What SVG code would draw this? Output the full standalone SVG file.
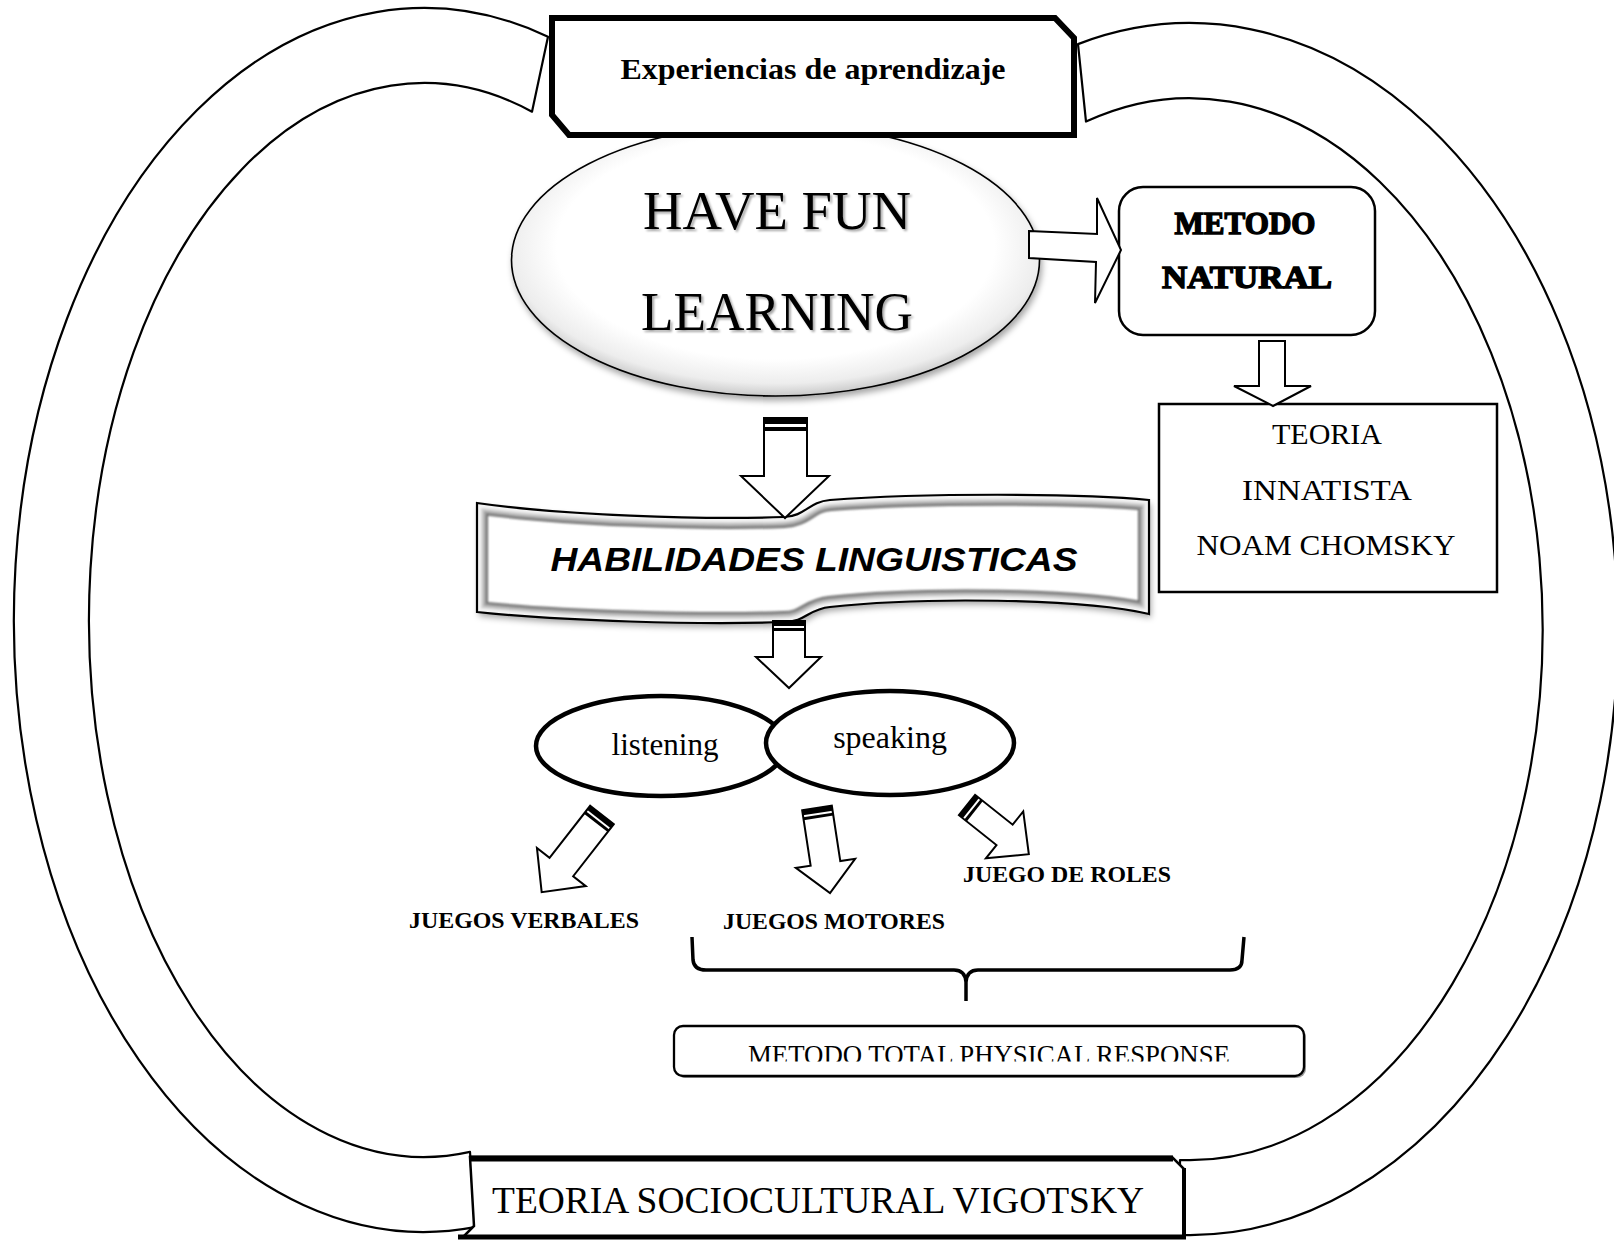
<svg xmlns="http://www.w3.org/2000/svg" width="1614" height="1240" viewBox="0 0 1614 1240">
<defs>
<style>
.band{fill:#fff;stroke:#000;stroke-width:2.2;stroke-linejoin:round}
.t{font-family:"Liberation Serif","Times New Roman",serif;fill:#000}
.arr{fill:#fff;stroke:#000;stroke-width:2;stroke-linejoin:miter}
.bar{fill:#000}
.lbl{font-family:"Liberation Serif","Times New Roman",serif;font-weight:bold;font-size:23px;fill:#000}
</style>
<radialGradient id="hf" cx="0.5" cy="0.45" r="0.56">
<stop offset="0" stop-color="#fff"/><stop offset="0.74" stop-color="#fff"/><stop offset="0.9" stop-color="#ededed"/><stop offset="1" stop-color="#c2c2c2"/>
</radialGradient>
<filter id="sh" x="-10%" y="-10%" width="130%" height="130%"><feDropShadow dx="2" dy="4" stdDeviation="3" flood-color="#000" flood-opacity="0.35"/></filter>
<filter id="tsh" x="-5%" y="-10%" width="115%" height="130%"><feDropShadow dx="2" dy="2" stdDeviation="1.2" flood-color="#000" flood-opacity="0.35"/></filter>
<filter id="soft"><feGaussianBlur stdDeviation="0.9"/></filter>
<clipPath id="bc"><path d="M477,503 C560,515 700,520 784,517 C806,516 808,502 830,500 C920,493 1080,493 1149,500 L1149,614 C1080,598 920,597 830,607 C808,609 806,622 784,622 C700,625 560,621 477,612 Z"/></clipPath>
<clipPath id="mc"><rect x="674" y="1026" width="630" height="35.5"/></clipPath>
</defs>
<rect width="1614" height="1240" fill="#fff"/>

<g id="ring">
<path class="band" d="M548,36.7 A410,612 0 1,0 475,1227.2 L470,1151.9 A335,537 0 1,1 532,111.7 Z"/>
<path class="band" d="M1078,44.1 A428,606 0 1,1 1180,1234.9 L1180,1160 A353,531 0 1,0 1086,121.6 Z"/>
</g>

<g id="have-fun-learning">
<ellipse cx="775.5" cy="260" rx="264" ry="136" fill="url(#hf)" stroke="#000" stroke-width="1.6" filter="url(#sh)"/>
<g filter="url(#tsh)">
<text class="t" x="777" y="229" font-size="55" text-anchor="middle" textLength="268" lengthAdjust="spacingAndGlyphs">HAVE FUN</text>
<text class="t" x="777" y="330" font-size="55" text-anchor="middle" textLength="272" lengthAdjust="spacingAndGlyphs">LEARNING</text>
</g>
</g>

<g id="experiencias">
<polygon points="552,18 1055,18 1074,38 1074,135 569,135 552,115" fill="#fff" stroke="#000" stroke-width="6" stroke-linejoin="miter"/>
<text class="t" x="813" y="79" font-size="30" font-weight="bold" text-anchor="middle" textLength="385" lengthAdjust="spacingAndGlyphs">Experiencias de aprendizaje</text>
</g>

<g id="metodo-natural">
<rect x="1119" y="187" width="256" height="148" rx="24" fill="#fff" stroke="#000" stroke-width="2.5"/>
<text class="t" x="1245" y="234" font-size="31" font-weight="bold" stroke="#000" stroke-width="1.4" text-anchor="middle" textLength="141" lengthAdjust="spacingAndGlyphs">METODO</text>
<text class="t" x="1247" y="288" font-size="31" font-weight="bold" stroke="#000" stroke-width="1.4" text-anchor="middle" textLength="170" lengthAdjust="spacingAndGlyphs">NATURAL</text>
</g>

<g id="teoria-innatista">
<rect x="1159" y="404" width="338" height="188" fill="#fff" stroke="#000" stroke-width="2.5"/>
<text class="t" x="1327" y="444" font-size="30" text-anchor="middle">TEORIA</text>
<text class="t" x="1327" y="500" font-size="30" text-anchor="middle" textLength="170" lengthAdjust="spacingAndGlyphs">INNATISTA</text>
<text class="t" x="1326" y="555" font-size="30" text-anchor="middle" textLength="259" lengthAdjust="spacingAndGlyphs">NOAM CHOMSKY</text>
</g>

<g id="habilidades">
<path d="M477,503 C560,515 700,520 784,517 C806,516 808,502 830,500 C920,493 1080,493 1149,500 L1149,614 C1080,598 920,597 830,607 C808,609 806,622 784,622 C700,625 560,621 477,612 Z" fill="#fff" filter="url(#sh)"/>
<g clip-path="url(#bc)">
<g fill="none" filter="url(#soft)">
<path d="M477,503 C560,515 700,520 784,517 C806,516 808,502 830,500 C920,493 1080,493 1149,500 L1149,614 C1080,598 920,597 830,607 C808,609 806,622 784,622 C700,625 560,621 477,612 Z" stroke="#6a6a6a" stroke-width="22"/>
<path d="M477,503 C560,515 700,520 784,517 C806,516 808,502 830,500 C920,493 1080,493 1149,500 L1149,614 C1080,598 920,597 830,607 C808,609 806,622 784,622 C700,625 560,621 477,612 Z" stroke="#a6a6a6" stroke-width="18"/>
<path d="M477,503 C560,515 700,520 784,517 C806,516 808,502 830,500 C920,493 1080,493 1149,500 L1149,614 C1080,598 920,597 830,607 C808,609 806,622 784,622 C700,625 560,621 477,612 Z" stroke="#d2d2d2" stroke-width="13"/>
<path d="M477,503 C560,515 700,520 784,517 C806,516 808,502 830,500 C920,493 1080,493 1149,500 L1149,614 C1080,598 920,597 830,607 C808,609 806,622 784,622 C700,625 560,621 477,612 Z" stroke="#f4f4f4" stroke-width="8"/>
</g>
</g>
<path d="M477,503 C560,515 700,520 784,517 C806,516 808,502 830,500 C920,493 1080,493 1149,500 L1149,614 C1080,598 920,597 830,607 C808,609 806,622 784,622 C700,625 560,621 477,612 Z" fill="none" stroke="#000" stroke-width="2.2"/>
<text x="814" y="571" font-family="'Liberation Sans','DejaVu Sans',sans-serif" font-weight="bold" font-style="italic" font-size="33" text-anchor="middle" textLength="527" lengthAdjust="spacingAndGlyphs">HABILIDADES LINGUISTICAS</text>
</g>

<g id="listening">
<ellipse cx="661" cy="746" rx="125" ry="50" fill="#fff" stroke="#000" stroke-width="4.5"/>
<text class="t" x="665" y="755" font-size="31" text-anchor="middle">listening</text>
</g>
<g id="speaking">
<ellipse cx="890" cy="743" rx="124" ry="52" fill="#fff" stroke="#000" stroke-width="4.5"/>
<text class="t" x="890" y="748" font-size="32" text-anchor="middle">speaking</text>
</g>

<g id="juegos-verbales"><text class="lbl" x="409" y="928" textLength="230" lengthAdjust="spacingAndGlyphs">JUEGOS VERBALES</text></g>
<g id="juegos-motores"><text class="lbl" x="723" y="929" textLength="222" lengthAdjust="spacingAndGlyphs">JUEGOS MOTORES</text></g>
<g id="juego-de-roles"><text class="lbl" x="963" y="882" textLength="208" lengthAdjust="spacingAndGlyphs">JUEGO DE ROLES</text></g>

<g id="metodo-tpr">
<rect x="676" y="1028" width="630" height="50" rx="9" fill="#9a9a9a"/>
<rect x="674" y="1026" width="630" height="50" rx="9" fill="#fff" stroke="#000" stroke-width="2.3"/>
<g clip-path="url(#mc)">
<text class="t" x="989" y="1064" font-size="28" text-anchor="middle" textLength="482" lengthAdjust="spacingAndGlyphs">METODO TOTAL PHYSICAL RESPONSE</text>
</g>
</g>

<g id="teoria-sociocultural">
<polygon points="470,1157 1172,1157 1184,1169 1184,1237 463,1237 474,1226" fill="#fff" stroke="#000" stroke-width="2.5" stroke-linejoin="miter"/>
<line x1="469" y1="1158.5" x2="1173" y2="1158.5" stroke="#000" stroke-width="6"/>
<line x1="458" y1="1237" x2="1186" y2="1237" stroke="#000" stroke-width="5"/>
<line x1="1184" y1="1168" x2="1184" y2="1238" stroke="#000" stroke-width="4"/>
<text class="t" x="492" y="1213" font-size="37" textLength="652" lengthAdjust="spacingAndGlyphs">TEORIA SOCIOCULTURAL VIGOTSKY</text>
</g>

<g id="connectors">
<polygon class="arr" points="1029,231 1097,234 1097,198 1121,250 1095,303 1096,262 1029,258"/>
<polygon class="arr" points="1259,341 1285,341 1285,386 1311,386 1273,406 1234,386 1259,386"/>
<g>
<polygon class="arr" points="764,418 807,418 807,476 829,476 785,518 741,476 764,476"/>
<rect class="bar" x="764" y="418" width="43" height="6"/>
<rect class="bar" x="764" y="427" width="43" height="4"/>
</g>
<g>
<polygon class="arr" points="773,621 805,621 805,657 821,657 789,688 756,657 773,657"/>
<rect class="bar" x="773" y="621" width="32" height="5"/>
<rect class="bar" x="773" y="628" width="32" height="3"/>
</g>
<g transform="translate(602,815) rotate(38)">
<polygon class="arr" points="-15,0 15,0 15,66 31,66 0,98 -31,66 -15,66"/>
<rect class="bar" x="-15" y="0" width="30" height="5"/>
<rect class="bar" x="-15" y="7" width="30" height="3"/>
</g>
<g transform="translate(817,808) rotate(-8.7)">
<polygon class="arr" points="-15,0 15,0 15,56 30,56 0,86 -30,56 -15,56"/>
<rect class="bar" x="-15" y="0" width="30" height="5"/>
<rect class="bar" x="-15" y="7" width="30" height="3"/>
</g>
<g transform="translate(967,805) rotate(-51.5)">
<polygon class="arr" points="-13,0 13,0 13,48 30,48 0,79 -30,48 -13,48"/>
<rect class="bar" x="-13" y="0" width="26" height="5"/>
<rect class="bar" x="-13" y="7" width="26" height="3"/>
</g>
<path d="M692,937 L693,960 Q694,970 706,970 L954,970 Q965,970 966,982 L966,1001 M966,982 Q967,970 978,970 L1230,970 Q1242,970 1242,960 L1244,937" fill="none" stroke="#000" stroke-width="3.5"/>
</g>
</svg>
